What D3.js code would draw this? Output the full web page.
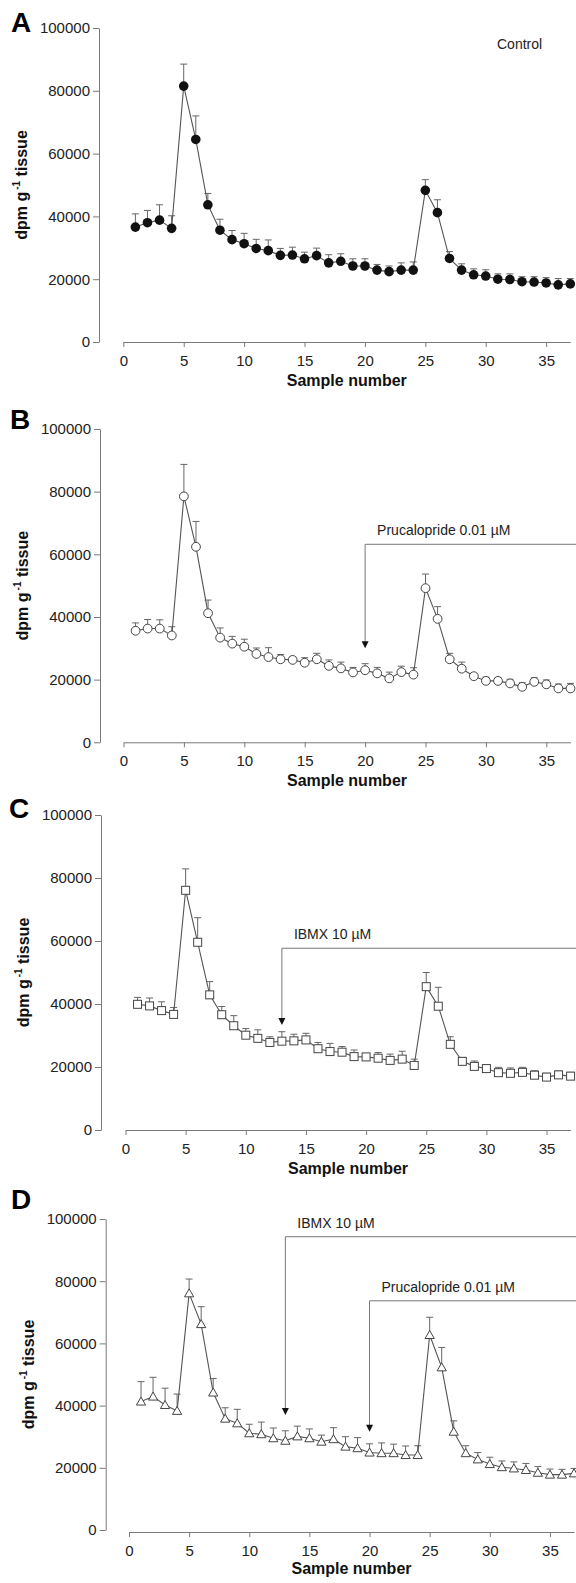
<!DOCTYPE html>
<html>
<head>
<meta charset="utf-8">
<script src="https://cdn.jsdelivr.net/npm/d3@7"></script>
<style>
  body { margin: 0; background: #fff; }
  svg { display: block; }
</style>
</head>
<body>
<svg id="chart" width="576" height="1583"></svg>
<script>
// sample numbers and ticks
var samples = d3.range(1, 38);
var xTicks = [0, 5, 10, 15, 20, 25, 30, 35];
var yTicks = [0, 20000, 40000, 60000, 80000, 100000];

// A - control (dpm/g, mean and SEM)
var aMean = [36600, 38000, 38800, 36200, 81500, 64500, 43700, 35600, 32600, 31300, 29800, 29100, 27600, 27700, 26500, 27500, 25200, 25700, 24200, 24200, 22900, 22400, 22900, 22900, 48300, 41200, 26600, 22900, 21400, 21000, 20000, 19900, 19200, 19100, 18800, 18200, 18500];
var aSem  = [4200, 3900, 4900, 4000, 7000, 7500, 3600, 3500, 2900, 3300, 2900, 3400, 2200, 2500, 2100, 2400, 2600, 2400, 2300, 2300, 1800, 1800, 2300, 2600, 3400, 4100, 2200, 2000, 1900, 2000, 1700, 1800, 1600, 1700, 1700, 2000, 1700];

// B - prucalopride 0.01 uM
var bMean = [35600, 36300, 36300, 34100, 78500, 62400, 41200, 33400, 31500, 30500, 28200, 27200, 26500, 26300, 25400, 26500, 24400, 23600, 22300, 23000, 22000, 20400, 22400, 21600, 49200, 39400, 26500, 23500, 21100, 19600, 19600, 18800, 17700, 19300, 18500, 17200, 17200];
var bSem  = [2500, 2900, 2800, 2800, 10200, 8100, 4200, 3100, 2300, 2400, 1900, 3000, 1500, 1000, 1600, 1900, 1900, 2000, 1600, 2100, 1900, 2000, 1900, 2200, 4500, 3900, 1900, 2100, 900, 1200, 1000, 1300, 1300, 1300, 1400, 1400, 1600];

// C - IBMX 10 uM
var cMean = [39900, 39400, 37900, 36700, 76100, 59600, 42900, 36600, 33100, 30100, 29100, 27800, 28200, 28300, 28600, 25800, 24900, 24700, 23300, 23200, 22800, 22100, 22500, 20500, 45500, 39300, 27200, 21800, 20200, 19500, 18200, 18000, 18300, 17400, 16800, 17500, 17100];
var cSem  = [2200, 2500, 2800, 2200, 6800, 7800, 4200, 2600, 3200, 2100, 2700, 1800, 3000, 2100, 2100, 2000, 2600, 1800, 2100, 1100, 1800, 2000, 2500, 2000, 4500, 6000, 2400, 1200, 1700, 1100, 1700, 1700, 1600, 1400, 1200, 1200, 1200];

// D - IBMX then prucalopride
var dMean = [41300, 42900, 40200, 38300, 76100, 66200, 44200, 35800, 34300, 31100, 30800, 29500, 28700, 30100, 29500, 28400, 29200, 26800, 26300, 24900, 24700, 24700, 24100, 24100, 62700, 52300, 31600, 24700, 22700, 21200, 20200, 19800, 19300, 18400, 17800, 17800, 18200];
var dSem  = [6400, 6200, 5400, 5400, 4600, 5600, 4500, 3500, 4500, 2900, 3900, 3300, 3200, 3300, 3000, 2100, 3700, 3200, 3400, 2800, 3300, 2900, 2900, 3000, 5700, 6400, 3500, 2400, 2200, 2200, 2000, 2100, 2100, 2000, 1800, 1700, 1600];

// drug additions: label, sample number, bracket level, arrow tip
var bNotes = [{label: "Prucalopride 0.01 \u00b5M", sample: 20, level: 63200, tip: 30000}];
var cNotes = [{label: "IBMX 10 \u00b5M", sample: 13, level: 57700, tip: 33300}];
var dNotes = [
    {label: "IBMX 10 \u00b5M", sample: 13, level: 94300, tip: 37000},
    {label: "Prucalopride 0.01 \u00b5M", sample: 20, level: 73700, tip: 31600}
];

var FONT = "Arial, 'Liberation Sans', sans-serif";
var axisColor = "#7a7a7a";
var W = 576;

var panels = [
    {letter: "A", mean: aMean, sem: aSem, marker: "dot",      notes: [],     tag: "Control",
     yAxisX: 99,  x0: 123.3, x1: 570.3, yTop: 28,   yBot: 342,    xShift: 0, letterX: 11, letterY: 32},
    {letter: "B", mean: bMean, sem: bSem, marker: "circle",   notes: bNotes,
     yAxisX: 100, x0: 123.5, x1: 570.5, yTop: 429,  yBot: 742.3,  xShift: 0, letterX: 10, letterY: 429},
    {letter: "C", mean: cMean, sem: cSem, marker: "square",   notes: cNotes,
     yAxisX: 101, x0: 125.5, x1: 570.6, yTop: 815,  yBot: 1130,   xShift: 0, letterX: 9, letterY: 818},
    {letter: "D", mean: dMean, sem: dSem, marker: "triangle", notes: dNotes,
     yAxisX: 105.7, x0: 129, x1: 574,   yTop: 1219, yBot: 1530,   xShift: 2, letterX: 11, letterY: 1209}
];

var svg = d3.select("#chart");

function styleAxis(a) {
    a.attr("font-family", FONT).attr("font-size", 15);
    a.select(".domain").attr("stroke", axisColor);
    a.selectAll(".tick line").attr("stroke", axisColor);
    a.selectAll(".tick text").attr("fill", "#222");
}

function drawPanel(p) {
    var g = svg.append("g");
    var x = d3.scaleLinear().domain([0, 37]).range([p.x0, p.x1]);
    var y = d3.scaleLinear().domain([0, 100000]).range([p.yBot, p.yTop]);

    g.append("g")
        .attr("transform", "translate(" + p.yAxisX + ",0)")
        .call(d3.axisLeft(y).tickValues(yTicks).tickSize(6).tickSizeOuter(0).tickPadding(3).tickFormat(d3.format("d")))
        .call(styleAxis);

    g.append("g")
        .attr("transform", "translate(0," + (p.yBot + p.xShift) + ")")
        .call(d3.axisBottom(x).tickValues(xTicks).tickSize(5).tickSizeOuter(0).tickPadding(8))
        .call(styleAxis);

    // axis titles
    g.append("text")
        .attr("x", (p.x0 + p.x1) / 2).attr("y", p.yBot + 44)
        .attr("text-anchor", "middle").attr("font-family", FONT)
        .attr("font-weight", "bold").attr("font-size", 16).attr("fill", "#111")
        .text("Sample number");

    var yl = g.append("text")
        .attr("transform", "translate(" + (p.yAxisX - 72) + "," + ((p.yTop + p.yBot) / 2) + ") rotate(-90)")
        .attr("text-anchor", "middle").attr("font-family", FONT)
        .attr("font-weight", "bold").attr("font-size", 16).attr("fill", "#111");
    yl.append("tspan").text("dpm g");
    yl.append("tspan").attr("dx", 2).attr("dy", -7).attr("font-size", 10).text("-1");
    yl.append("tspan").attr("dy", 7).text(" tissue");

    g.append("text")
        .attr("x", p.letterX).attr("y", p.letterY)
        .attr("font-family", FONT).attr("font-weight", "bold").attr("font-size", 28).attr("fill", "#000")
        .text(p.letter);

    if (p.tag) {
        g.append("text").attr("x", 497).attr("y", 49)
            .attr("font-family", FONT).attr("font-size", 14).attr("fill", "#222")
            .text(p.tag);
    }

    var data = samples.map(function(s, i) { return {s: s, m: p.mean[i], e: p.sem[i]}; });

    // upward error bars
    g.selectAll(".err").data(data).join("path")
        .attr("class", "err")
        .attr("d", function(d) {
            var px = x(d.s), top = y(d.m + d.e);
            return "M" + px + "," + y(d.m) + "V" + top + "M" + (px - 3.5) + "," + top + "h7";
        })
        .attr("stroke", "#666").attr("stroke-width", 1).attr("fill", "none");

    g.append("path").datum(data)
        .attr("d", d3.line().x(function(d) { return x(d.s); }).y(function(d) { return y(d.m); }))
        .attr("stroke", "#555").attr("stroke-width", 1.1).attr("fill", "none");

    var mk = g.selectAll(".mk").data(data).join("g")
        .attr("class", "mk")
        .attr("transform", function(d) { return "translate(" + x(d.s) + "," + y(d.m) + ")"; });

    if (p.marker === "dot") {
        mk.append("circle").attr("r", 4.8).attr("fill", "#111");
    } else if (p.marker === "circle") {
        mk.append("circle").attr("r", 4.4).attr("fill", "#fff").attr("stroke", "#444").attr("stroke-width", 1);
    } else if (p.marker === "square") {
        mk.append("rect").attr("x", -4).attr("y", -4).attr("width", 8).attr("height", 8)
            .attr("fill", "#fff").attr("stroke", "#444").attr("stroke-width", 1);
    } else {
        mk.append("path").attr("d", "M0,-4.5L4.6,3.5L-4.6,3.5Z")
            .attr("fill", "#fff").attr("stroke", "#444").attr("stroke-width", 1);
    }

    // drug addition brackets and arrows
    p.notes.forEach(function(n) {
        var nx = x(n.sample), ny = y(n.level), tip = y(n.tip);
        g.append("path")
            .attr("d", "M" + W + "," + ny + "H" + nx + "V" + (tip - 6))
            .attr("stroke", "#777").attr("stroke-width", 1).attr("fill", "none");
        g.append("path")
            .attr("d", "M" + (nx - 3.5) + "," + (tip - 7) + "H" + (nx + 3.5) + "L" + nx + "," + tip + "Z")
            .attr("fill", "#111");
        g.append("text").attr("x", nx + 12).attr("y", ny - 9)
            .attr("font-family", FONT).attr("font-size", 14).attr("fill", "#222")
            .text(n.label);
    });
}

panels.forEach(drawPanel);
</script>
</body>
</html>
